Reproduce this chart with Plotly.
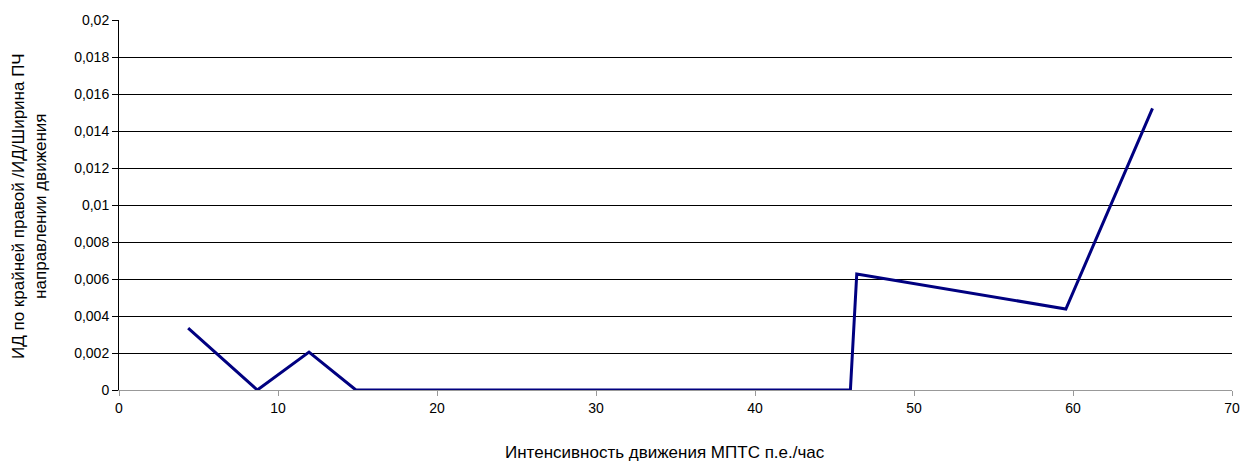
import plotly.graph_objects as go

x_vals = [4.35, 8.7, 11.95, 14.9, 46.0, 46.4, 59.55, 65.0]
y_vals = [0.00335, 0.0, 0.00205, 0.0, 0.0, 0.00627, 0.00438, 0.01522]
x_ticks = [0, 10, 20, 30, 40, 50, 60, 70]
y_ticks = [i * 0.002 for i in range(11)]
y_tick_text = ["0", "0,002", "0,004", "0,006", "0,008", "0,01", "0,012", "0,014", "0,016", "0,018", "0,02"]

x_title = "Интенсивность движения МПТС п.е./час"
y_title = "ИД по крайней правой /ИД/Ширина ПЧ<br>направлении движения"

W, H = 1241, 462
L, R, T, B = 119, 9, 20, 72
pw, ph = W - L - R, H - T - B

fig = go.Figure()
fig.add_trace(go.Scatter(x=x_vals, y=y_vals, mode="lines",
                         line=dict(color="#000080", width=3)))

font = "Liberation Sans, Arial, sans-serif"
fig.update_layout(
    width=W, height=H,
    margin=dict(l=L, r=R, t=T, b=B, autoexpand=False),
    paper_bgcolor="white", plot_bgcolor="white",
    showlegend=False,
    font=dict(family=font, size=14, color="black"),
    xaxis=dict(range=[0, 70], tickvals=x_ticks, showgrid=False, zeroline=False,
               showline=True, linecolor="#999999", linewidth=1,
               ticks="outside", ticklen=5, tickcolor="#999999",
               tickfont=dict(size=14), automargin=False),
    yaxis=dict(range=[0, 0.02], tickvals=y_ticks, ticktext=y_tick_text,
               showgrid=True, gridcolor="black", gridwidth=1, zeroline=False,
               showline=True, linecolor="black", linewidth=1,
               ticks="outside", ticklen=6, tickcolor="black",
               tickfont=dict(size=14), automargin=False),
    annotations=[
        dict(text=x_title, xref="paper", yref="paper",
             x=(665 - L) / pw, y=-(452 - T - ph) / ph,
             xanchor="center", yanchor="middle", showarrow=False,
             font=dict(size=17)),
        dict(text=y_title, xref="paper", yref="paper",
             x=(29 - L) / pw, y=(H - B - 206) / ph,
             xanchor="center", yanchor="middle", showarrow=False,
             textangle=-90, font=dict(size=17)),
    ],
)
fig.write_html("out.html", config={"displayModeBar": False},
               post_script="document.body.style.margin='0';document.body.style.overflow='hidden';")
